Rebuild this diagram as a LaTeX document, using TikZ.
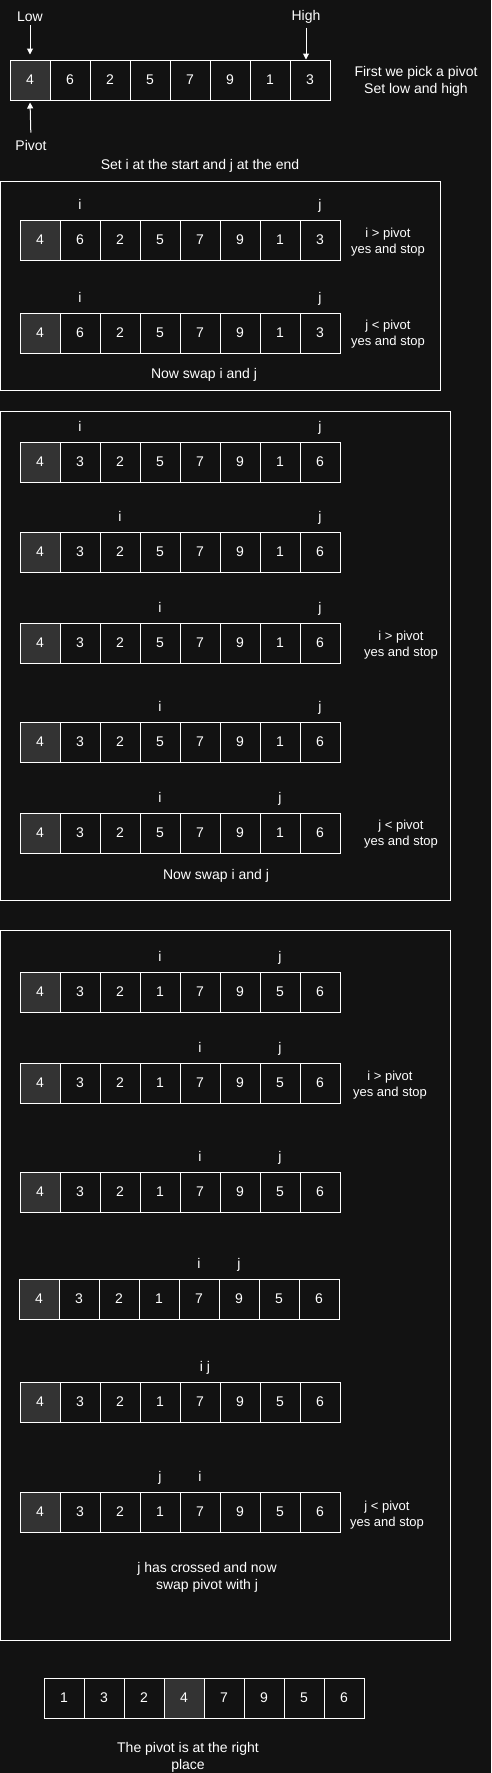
\documentclass[tikz,border=0pt]{standalone}
\usepackage{fontspec}
\setmainfont{Liberation Sans}
\usetikzlibrary{arrows.meta}
\definecolor{bgc}{HTML}{121212}
\definecolor{pivc}{HTML}{333333}
\tikzset{
  cellbox/.style={draw=white, line width=1pt, minimum width=40pt, minimum height=40pt, inner sep=0pt, text=white, font=\fontsize{14}{17}\selectfont},
  ptr/.style={text=white, font=\fontsize{14}{17}\selectfont, inner sep=0pt, anchor=base},
  note/.style={text=white, font=\fontsize{14}{17}\selectfont, align=center, inner sep=0pt},
  side/.style={text=white, font=\fontsize{13}{16}\selectfont, align=center, inner sep=0pt},
  frame/.style={draw=white, line width=1pt},
  arr/.style={draw=white, line width=1pt, -{Triangle[length=6pt,width=6pt]}}
}
\newcommand\qsrow[5]{% name, x0, ytop, pivot index, values
  \foreach \v [count=\k] in {#5} {%
    \ifnum\k=#4\relax\def\qsfill{pivc}\else\def\qsfill{bgc}\fi
    \node[cellbox, fill=\qsfill] (#1-\k) at ({#2+40*\k-20},{#3+20}) {\v};
  }}
\begin{document}
\begin{tikzpicture}[x=1pt, y=-1pt]
\useasboundingbox (0,0) rectangle (491,1773);
\fill[bgc] (0,0) rectangle (491,1773);

% ---------- top ----------
\qsrow{t}{10}{60}{1}{4,6,2,5,7,9,1,3}
\node[note] (low) at (30,17) {Low};
\node[note] (high) at (306,17) {High};
\node[note] (pivot) at (31,145) {Pivot};
\draw[arr, shorten <=3pt, shorten >=5pt] (low.south) -- (t-1.north);
\draw[arr, shorten <=4pt] (high.south) -- (high.south |- t-8.north);
\draw[arr, shorten <=7pt, shorten >=2pt] (pivot.north) -- (t-1.south);
\node[note] (pick) at (416,81) {First we pick a pivot\\Set low and high};
\node[note] (setij) at (200,166) {Set i at the start and j at the end};

% ---------- box 1 ----------
\draw[frame] (0,181) rectangle (440,390);
\qsrow{a1}{20}{220}{1}{4,6,2,5,7,9,1,3}
\node[ptr] (a1i) at ([yshift=10pt]a1-2.north) {i};
\node[ptr] (a1j) at ([yshift=10pt]a1-8.north) {j};
\node[side] (a1s) at (388,242) {i > pivot\\yes and stop};
\qsrow{a2}{20}{313}{1}{4,6,2,5,7,9,1,3}
\node[ptr] (a2i) at ([yshift=10pt]a2-2.north) {i};
\node[ptr] (a2j) at ([yshift=10pt]a2-8.north) {j};
\node[side] (a2s) at (388,334) {j < pivot\\yes and stop};
\node[note] (a3) at (204,375) {Now swap i and j};

% ---------- box 2 ----------
\draw[frame] (0,411) rectangle (450,900);
\qsrow{b1}{20}{442}{1}{4,3,2,5,7,9,1,6}
\node[ptr] (b1i) at ([yshift=10pt]b1-2.north) {i};
\node[ptr] (b1j) at ([yshift=10pt]b1-8.north) {j};
\qsrow{b2}{20}{532}{1}{4,3,2,5,7,9,1,6}
\node[ptr] (b2i) at ([yshift=10pt]b2-3.north) {i};
\node[ptr] (b2j) at ([yshift=10pt]b2-8.north) {j};
\qsrow{b3}{20}{623}{1}{4,3,2,5,7,9,1,6}
\node[ptr] (b3i) at ([yshift=10pt]b3-4.north) {i};
\node[ptr] (b3j) at ([yshift=10pt]b3-8.north) {j};
\node[side] (b3s) at (401,645) {i > pivot\\yes and stop};
\qsrow{b4}{20}{722}{1}{4,3,2,5,7,9,1,6}
\node[ptr] (b4i) at ([yshift=10pt]b4-4.north) {i};
\node[ptr] (b4j) at ([yshift=10pt]b4-8.north) {j};
\qsrow{b5}{20}{813}{1}{4,3,2,5,7,9,1,6}
\node[ptr] (b5i) at ([yshift=10pt]b5-4.north) {i};
\node[ptr] (b5j) at ([yshift=10pt]b5-7.north) {j};
\node[side] (b5s) at (401,834) {j < pivot\\yes and stop};
\node[note] (b6) at (216,876) {Now swap i and j};

% ---------- box 3 ----------
\draw[frame] (0,930) rectangle (450,1640);
\qsrow{c1}{20}{972}{1}{4,3,2,1,7,9,5,6}
\node[ptr] (c1i) at ([yshift=10pt]c1-4.north) {i};
\node[ptr] (c1j) at ([yshift=10pt]c1-7.north) {j};
\qsrow{c2}{20}{1063}{1}{4,3,2,1,7,9,5,6}
\node[ptr] (c2i) at ([yshift=10pt]c2-5.north) {i};
\node[ptr] (c2j) at ([yshift=10pt]c2-7.north) {j};
\node[side] (c2s) at (390,1085) {i > pivot\\yes and stop};
\qsrow{c3}{20}{1172}{1}{4,3,2,1,7,9,5,6}
\node[ptr] (c3i) at ([yshift=10pt]c3-5.north) {i};
\node[ptr] (c3j) at ([yshift=10pt]c3-7.north) {j};
\qsrow{c4}{19}{1279}{1}{4,3,2,1,7,9,5,6}
\node[ptr] (c4i) at ([yshift=10pt]c4-5.north) {i};
\node[ptr] (c4j) at ([yshift=10pt]c4-6.north) {j};
\qsrow{c5}{20}{1382}{1}{4,3,2,1,7,9,5,6}
\node[ptr] (c5ij) at ([yshift=10pt, xshift=5pt]c5-5.north) {i j};
\qsrow{c6}{20}{1492}{1}{4,3,2,1,7,9,5,6}
\node[ptr] (c6j) at ([yshift=10pt]c6-4.north) {j};
\node[ptr] (c6i) at ([yshift=10pt]c6-5.north) {i};
\node[side] (c6s) at (387,1515) {j < pivot\\yes and stop};
\node[note] (c7) at (207,1577) {j has crossed and now\\swap pivot with j};

% ---------- final ----------
\qsrow{d}{44}{1678}{4}{1,3,2,4,7,9,5,6}
\node[note] (dend) at (188,1757) {The pivot is at the right\\place};
\end{tikzpicture}
\end{document}
